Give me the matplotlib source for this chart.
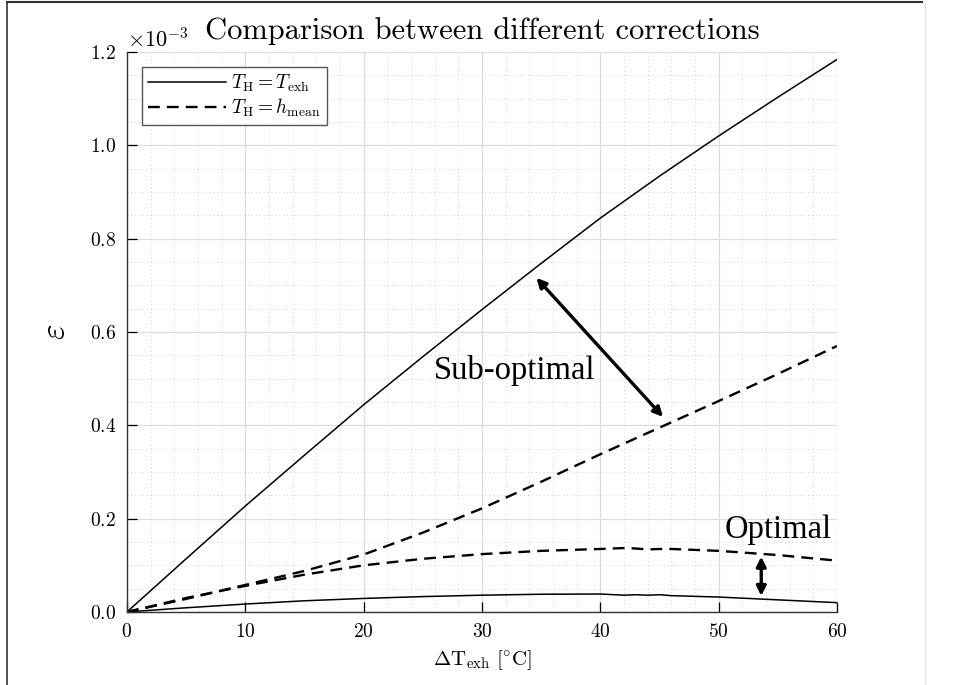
import numpy as np
import matplotlib
matplotlib.use("Agg")
import matplotlib.pyplot as plt
from matplotlib.lines import Line2D
from matplotlib.ticker import MultipleLocator, ScalarFormatter

plt.rcParams["font.family"] = "serif"
plt.rcParams["font.serif"] = ["cmr10", "DejaVu Serif"]
plt.rcParams["mathtext.fontset"] = "cm"
plt.rcParams["axes.formatter.use_mathtext"] = True

# values, epsilon in units of 1e-3
dT = [0, 5, 10, 15, 20, 25, 30, 35, 40, 45, 50, 55, 60]
eps_exh_upper = [0, 0.114, 0.227, 0.336, 0.444, 0.547, 0.648, 0.747, 0.844, 0.934, 1.020, 1.103, 1.184]
eps_mean_upper = [0, 0.028, 0.058, 0.088, 0.123, 0.170, 0.222, 0.279, 0.338, 0.395, 0.452, 0.510, 0.570]

dT_low = [0, 5, 10, 15, 20, 25, 30, 35, 40, 42, 43, 44, 45, 46, 50, 55, 60]
eps_mean_lower = [0, 0.030, 0.056, 0.080, 0.100, 0.114, 0.124, 0.131, 0.135, 0.137, 0.136, 0.134,
                  0.135, 0.135, 0.131, 0.122, 0.110]
eps_exh_lower = [0, 0.009, 0.017, 0.024, 0.029, 0.033, 0.036, 0.038, 0.0385, 0.036, 0.037, 0.036,
                 0.037, 0.035, 0.032, 0.026, 0.020]

scale = 1e-3

fig = plt.figure(figsize=(9.56, 6.85), dpi=100)
ax = fig.add_axes([0.1328, 0.1066, 0.7427, 0.8175])

ax.plot(dT, np.array(eps_exh_upper) * scale, color="black", lw=1.1, label=r"$T_\mathrm{H} = T_\mathrm{exh}$")
ax.plot(dT, np.array(eps_mean_upper) * scale, color="black", lw=1.7, ls=(0, (5, 3)),
        label=r"$T_\mathrm{H} = h_\mathrm{mean}$")
ax.plot(dT_low, np.array(eps_mean_lower) * scale, color="black", lw=1.7, ls=(0, (5, 3)))
ax.plot(dT_low, np.array(eps_exh_lower) * scale, color="black", lw=1.1)

ax.set_xlim(0, 60)
ax.set_ylim(0, 1.2e-3)
ax.xaxis.set_major_locator(MultipleLocator(10))
ax.xaxis.set_minor_locator(MultipleLocator(2))
ax.yaxis.set_major_locator(MultipleLocator(0.2e-3))
ax.yaxis.set_minor_locator(MultipleLocator(0.05e-3))
fmt = ScalarFormatter(useMathText=True)
fmt.set_powerlimits((-3, -3))
ax.yaxis.set_major_formatter(fmt)
ax.yaxis.get_offset_text().set_fontsize(16)

ax.grid(which="major", color="#dcdcdc", lw=0.9)
ax.grid(which="minor", color="#d0d0d0", lw=0.7, ls=(0, (1, 3)))
ax.set_axisbelow(True)
ax.tick_params(which="major", direction="in", length=7, width=0.9, labelsize=14, pad=8)
ax.tick_params(which="minor", length=0)
ax.spines["top"].set_visible(False)
ax.spines["right"].set_visible(False)
for s in ("left", "bottom"):
    ax.spines[s].set_color("#333333")
    ax.spines[s].set_linewidth(1.0)

ax.set_title("Comparison between different corrections", fontsize=22, pad=9)
ax.set_xlabel(r"$\Delta\mathrm{T}_\mathrm{exh}\ [^{\circ}\mathrm{C}]$", fontsize=15, labelpad=5)
ax.set_ylabel(r"$\varepsilon$", fontsize=24, labelpad=14)

leg = ax.legend(loc="upper left", bbox_to_anchor=(15 / 710, 1 - 15 / 560), borderaxespad=0,
                fontsize=14, handlelength=4.0, fancybox=False, framealpha=1, edgecolor="#555555",
                borderpad=0.3, labelspacing=0.15, handletextpad=0.3)
leg.get_frame().set_linewidth(1.0)

ax.annotate("", xy=(34.6, 0.716e-3), xytext=(45.3, 0.418e-3),
            arrowprops=dict(arrowstyle="<|-|>", color="black", lw=2.4, mutation_scale=14, shrinkA=0, shrinkB=0))
ax.annotate("", xy=(53.6, 0.1186e-3), xytext=(53.6, 0.0343e-3),
            arrowprops=dict(arrowstyle="<|-|>", color="black", lw=2.4, mutation_scale=14, shrinkA=0, shrinkB=0))
ax.text(32.8, 0.499e-3, "Sub-optimal", fontsize=23.5, family="Liberation Serif", ha="center", va="baseline")
ax.text(55.0, 0.158e-3, "Optimal", fontsize=23.5, family="Liberation Serif", ha="center", va="baseline")

# page border seen in the screenshot
fig.add_artist(Line2D([7 / 956, 922 / 956], [1 - 2 / 685, 1 - 2 / 685], color="#333333", lw=1.5,
                      transform=fig.transFigure))
fig.add_artist(Line2D([7 / 956, 7 / 956], [0, 1 - 2 / 685], color="#333333", lw=1.2,
                      transform=fig.transFigure))
fig.add_artist(Line2D([925 / 956, 925 / 956], [0, 1 - 3 / 685], color="#e6e6e6", lw=1.0,
                      transform=fig.transFigure))

fig.savefig("out.png", dpi=100)
